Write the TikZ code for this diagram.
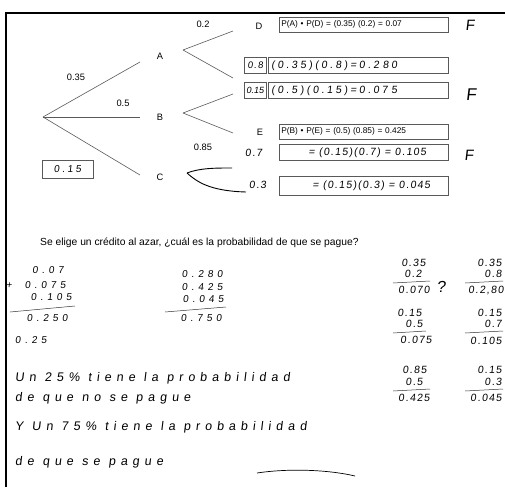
\documentclass[tikz,border=0pt]{standalone}
\usepackage{fontspec}
\setmainfont{Liberation Sans}
\newfontfamily\hand[LetterSpace=40,FakeSlant=0.12]{Liberation Sans}
\newfontfamily\handm[LetterSpace=26,FakeSlant=0.12]{Liberation Sans}
\newfontfamily\handn[LetterSpace=12,FakeSlant=0.12]{Liberation Sans}
\usepackage{tikz}
\usetikzlibrary{positioning}

\tikzset{
  branch/.style={draw=black!65, line width=0.6pt},
  lbl/.style={font=\fontsize{9.3}{10}\selectfont, inner sep=0pt},
  printbox/.style={draw=black!65, line width=0.6pt, anchor=west, inner sep=2pt,
    text width=165pt, minimum height=15pt, font=\fontsize{8.3}{9}\selectfont},
  handbox/.style={draw=black!65, line width=0.6pt, anchor=west, inner sep=2pt,
    minimum height=16pt, font=\handm\fontsize{10.5}{11}\selectfont},
  hw/.style={font=\hand\fontsize{10}{11}\selectfont, inner sep=0pt},
  hwr/.style={hw, anchor=east},
  hwn/.style={font=\handn\fontsize{10.5}{11}\selectfont, inner sep=0pt, anchor=east},
  answer/.style={font=\hand\fontsize{12.5}{13}\selectfont, inner sep=0pt, anchor=west},
  sumline/.style={draw=black!80, line width=0.5pt},
}

\begin{document}
\begin{tikzpicture}[x=1pt,y=-1pt]
\useasboundingbox (0,0) rectangle (505,487);
% sheet frame
\draw[line width=2.2pt] (6,487) -- (6,13) -- (505,13);

% first level of the tree
\coordinate (r) at (43,117);
\coordinate (a-in) at (140,62);
\coordinate (b-in) at (140,117);
\coordinate (c-in) at (140,175);
\node[lbl] (A) at (160,56) {A};
\node[lbl] (B) at (160,117) {B};
\node[lbl] (C) at (160,177) {C};
\draw[branch] (r) -- (a-in);
\draw[branch] (r) -- (b-in);
\draw[branch] (r) -- (c-in);
\node[lbl] (pa) at (76,77) {0.35};
\node[lbl] (pb) at (123,103) {0.5};
\node[draw=black!65, line width=0.6pt, minimum width=51pt, minimum height=18pt,
  font=\handm\fontsize{10}{11}\selectfont] (pc) at (67.5,169) {0.15};

% second level, branch A
\coordinate (a-out) at (183,50);
\coordinate (d-in) at (233,31);
\coordinate (nd-in) at (233,78);
\draw[branch] (a-out) -- (d-in);
\draw[branch] (a-out) -- (nd-in);
\node[lbl] (pd) at (203,24) {0.2};
\node[lbl] (D) at (259,26) {D};
\node[handbox, minimum width=22pt, font=\handn\fontsize{9.5}{10}\selectfont] (pnd) at (244,65.5) {0.8};

% second level, branch B
\coordinate (b-out) at (183,113);
\coordinate (ne-in) at (233,94);
\coordinate (e-in) at (233,133);
\draw[branch] (b-out) -- (ne-in);
\draw[branch] (b-out) -- (e-in);
\node[handbox, minimum width=22pt, inner sep=1.5pt, font=\fontsize{9}{10}\selectfont\itshape] (pne) at (244,90.5) {0.15};
\node[lbl] (pe) at (203,147) {0.85};
\node[lbl] (E) at (260,132) {E};

% second level, branch C (hand drawn)
\coordinate (c-out) at (187,173);
\coordinate (f-in) at (232,168);
\coordinate (nf-in) at (246,192);
\draw[line width=0.9pt] (c-out) .. controls (200,168) and (215,168) .. (f-in);
\draw[line width=0.9pt] (c-out) .. controls (197,182) and (210,191) .. (nf-in);
\node[hwn, anchor=west] (pf) at (245,153) {0.7};
\node[hwn, anchor=west] (pnf) at (249,185) {0.3};

% products
\node[printbox] (ad) at (279,24.5) {P(A) \textbullet{} P(D) = (0.35) (0.2) = 0.07};
\node[handbox, minimum width=180pt, text width=174pt] (and) at (268,65.5) {(0.35)(0.8)=0.2 80};
\node[handbox, minimum width=180pt, text width=174pt] (bne) at (268,90.5) {(0.5)(0.15)=0.07 5};
\node[printbox] (be) at (279,131.5) {P(B) \textbullet{} P(E) = (0.5) (0.85) = 0.425};
\node[handbox, font=\handn\fontsize{10.5}{11}\selectfont] (cf) at (279,152.5)
  {\makebox[165pt][r]{= (0.15)(0.7) = 0.105\hspace{20pt}}};
\node[handbox, minimum height=19pt, font=\handn\fontsize{10.5}{11}\selectfont] (cnf) at (279,186)
  {\makebox[165pt][r]{= (0.15)(0.3) = 0.045\hspace{16pt}}};

% marks
\node[font=\handn\fontsize{15}{15}\selectfont, inner sep=0pt] (f1) at (470,25) {F};
\node[font=\handn\fontsize{17}{17}\selectfont, inner sep=0pt] (f2) at (471,95) {F};
\node[font=\handn\fontsize{15}{15}\selectfont, inner sep=0pt] (f3) at (469,155) {F};

% question
\node[anchor=west, inner sep=0pt, font=\fontsize{10.3}{11}\selectfont] (q) at (40,243)
  {Se elige un crédito al azar, ¿cuál es la probabilidad de que se pague?};

% left sums
\node[hwr] (s1) at (64,270) {0.07};
\node[hwr] (s2) at (66,285) {0.075};
\node[hw] (plus) at (9,286) {+};
\node[hwr] (s3) at (72,297) {0.105};
\draw[sumline] (10,312) -- (75,306);
\node[hwr] (s4) at (68,318) {0.250};
\node[hw, anchor=west] (s5) at (15,340) {0.25};

\node[hwr] (t1) at (223,274) {0.280};
\node[hwr] (t2) at (223,287) {0.425};
\node[hwr] (t3) at (224,299) {0.045};
\draw[sumline] (165,312) -- (226,307);
\node[hwr] (t4) at (222,318) {0.750};

% right products
\node[hwn] (m1) at (426,263) {0.35};
\node[hwn] (m2) at (422,274) {0.2};
\draw[sumline] (393,283) -- (430,281);
\node[hwn] (m3) at (430,290) {0.070};
\node[font=\handn\fontsize{16}{16}\selectfont, inner sep=0pt] (qm) at (441,287) {?};
\node[hwn] (n1) at (502,263) {0.35};
\node[hwn] (n2) at (502,274) {0.8};
\draw[sumline] (465,283) -- (503,281);
\node[hwn] (n3) at (504,291) {0.2,80};

\node[hwn] (m4) at (422,313) {0.15};
\node[hwn] (m5) at (423,324) {0.5};
\draw[sumline] (393,333) -- (426,331);
\node[hwn] (m6) at (432,340) {0.075};
\node[hwn] (n4) at (502,313) {0.15};
\node[hwn] (n5) at (502,324) {0.7};
\draw[sumline] (465,333) -- (503,331);
\node[hwn] (n6) at (502,341) {0.105};

\node[hwn] (m7) at (427,370) {0.85};
\node[hwn] (m8) at (423,382) {0.5};
\draw[sumline] (393,391) -- (430,389);
\node[hwn] (m9) at (430,398) {0.425};
\node[hwn] (n7) at (502,370) {0.15};
\node[hwn] (n8) at (502,382) {0.3};
\draw[sumline] (465,391) -- (503,389);
\node[hwn] (n9) at (502,398) {0.045};

% answer
\node[answer] (u1) at (15,378) {Un 25\% tiene la probabilidad};
\node[answer] (u2) at (15,398) {de que no se pague};
\node[answer] (u3) at (15,427) {Y Un 75\% tiene la probabilidad};
\node[answer] (u4) at (15,462) {de que se pague};
\coordinate (ul-a) at (257,473);
\coordinate (ul-b) at (355,476);
\draw[line width=0.7pt] (ul-a) .. controls (290,468) and (330,470) .. (ul-b);
\end{tikzpicture}
\end{document}
